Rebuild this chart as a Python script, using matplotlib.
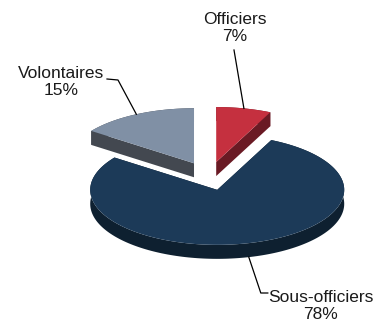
import numpy as np
import matplotlib
matplotlib.use("Agg")
import matplotlib.pyplot as plt

# Personnel breakdown by category
categories = ["Officiers", "Sous-officiers", "Volontaires"]
shares = [7, 78, 15]
top_colors = ["#c5303f", "#1c3a58", "#8090a5"]
side_colors = ["#6a1a24", "#0e2030", "#434850"]

# Pie layout in pixel units (y grows downward)
W, H = 378, 323
CX, CY = 209, 176          # pie centre
RX, RY = 127, 55           # ellipse radii of the tilted disc
DEPTH = 14                 # thickness of the disc
EXPLODE = 0.26
START = 90.0

plt.rcParams["font.family"] = ["Liberation Sans", "DejaVu Sans"]

fig = plt.figure(figsize=(W / 100, H / 100), dpi=100)
ax = fig.add_axes([0, 0, 1, 1])
ax.set_xlim(0, W)
ax.set_ylim(H, 0)
ax.axis("off")


def pt(cx, cy, ang, r=1.0, dz=0.0):
    a = np.radians(ang)
    return cx + r * RX * np.cos(a), cy - r * RY * np.sin(a) + dz


# slice angles, clockwise from the top
total = float(sum(shares))
bounds = []
t = START
for v in shares:
    span = 360.0 * v / total
    bounds.append((t - span, t))
    t -= span

slices = []
for i, (t1, t2) in enumerate(bounds):
    mid = 0.5 * (t1 + t2)
    ox, oy = pt(0, 0, mid, EXPLODE)
    slices.append(dict(i=i, t1=t1, t2=t2, mid=mid, cx=CX + ox, cy=CY + oy))

# draw front slice first so the raised back slices keep their walls visible
order = sorted(slices, key=lambda s: np.sin(np.radians(s["mid"])))
for s in order:
    i, cx, cy = s["i"], s["cx"], s["cy"]
    th = np.linspace(s["t1"], s["t2"], 200)
    ax_, ay_ = pt(cx, cy, th)
    # radial walls
    for edge in (s["t1"], s["t2"]):
        ex, ey = pt(cx, cy, edge)
        ax.fill([cx, ex, ex, cx], [cy, ey, ey + DEPTH, cy + DEPTH],
                color=side_colors[i], lw=0, zorder=2 + i)
    # outer curved wall
    ax.fill(np.r_[ax_, ax_[::-1]], np.r_[ay_, ay_[::-1] + DEPTH],
            color=side_colors[i], lw=0, zorder=2 + i)
    # top face
    ax.fill(np.r_[cx, ax_], np.r_[cy, ay_], color=top_colors[i],
            lw=0, zorder=2.5 + i)
    s["ax"] = ax_

# labels with leader lines
label_pos = {0: (235, 28), 1: (321, 306), 2: (61, 82)}
for s in slices:
    i = s["i"]
    ex, ey = pt(s["cx"], s["cy"], s["mid"])
    if np.sin(np.radians(s["mid"])) < 0:
        ey += DEPTH
    tx, ty = label_pos[i]
    if i == 0:
        xs, ys = [ex, tx - 1, tx - 1], [ey, ty + 22, ty + 22]
    elif i == 1:
        xs, ys = [ex, ex + 12, ex + 19], [ey, ty - 13, ty - 13]
    else:
        xs, ys = [ex, tx + 57, tx + 46], [ey, ty - 2, ty - 3]
    ax.plot(xs, ys, color="black", lw=0.9, zorder=10)
    ax.text(tx, ty, f"{categories[i]}\n{shares[i]}%", ha="center",
            va="center", multialignment="center", fontsize=12.5,
            color="#1a1a1a", linespacing=1.15, zorder=11)

fig.savefig("out.png", dpi=100)
